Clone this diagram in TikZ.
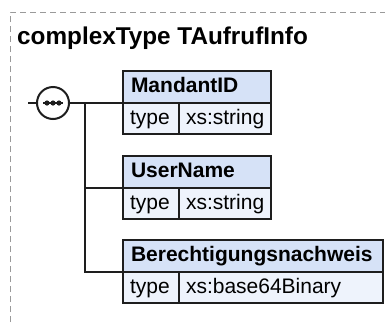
\documentclass[tikz,border=0pt]{standalone}
\usepackage{fontspec}
\setmainfont{Liberation Sans}
\usepackage{xcolor}
\usetikzlibrary{positioning}

\definecolor{headfill}{HTML}{D6E2F7}
\definecolor{bodyfill}{HTML}{EEF3FC}
\definecolor{boxline}{HTML}{1E1E1E}
\definecolor{framegray}{HTML}{9A9A9A}

\tikzset{
  elemhead/.style={draw=boxline, fill=headfill, line width=2pt, anchor=north west, outer sep=0pt,
    text width=#1, align=left, inner xsep=8pt, inner ysep=0pt, minimum height=32pt,
    text height=15.5pt, text depth=4.5pt, font=\bfseries\fontsize{21}{25}\selectfont},
  elemcell/.style={draw=boxline, fill=bodyfill, line width=2pt, anchor=north west, outer sep=0pt,
    text width=#1, align=left, inner xsep=7pt, inner ysep=0pt, minimum height=31pt,
    text height=15.5pt, text depth=4.5pt, font=\fontsize{21}{25}\selectfont},
  conn/.style={draw=boxline, line width=2pt},
  frame/.style={draw=framegray, line width=1pt, dash pattern=on 6pt off 4pt}
}

\begin{document}
\begin{tikzpicture}[x=1pt,y=-1pt]
  \useasboundingbox (0,0) rectangle (385,322);
  \draw[frame] (10,322) |- (385,12);
  \node[anchor=base west, inner sep=0pt, font=\bfseries\fontsize{24.3}{28}\selectfont]
    (title) at (17,44) {complexType TAufrufInfo};

  % sequence compositor
  \coordinate (stub) at (28,103);
  \coordinate (branch) at (85,103);
  \node[draw=boxline, fill=white, line width=2pt, circle, minimum size=32pt, inner sep=0pt, outer sep=0pt]
    (seq) at (53,103) {};
  \draw[conn] ([xshift=-10pt]seq.center) -- ([xshift=10pt]seq.center);
  \foreach \dx in {-6,0,6}
    \fill[boxline] ([xshift=\dx pt]seq.center) circle (2.6pt);

  % elements
  \node[elemhead=132pt] (mandant) at (123,71) {MandantID};
  \node[elemcell=42pt] (mandanttype) at (mandant.south west) {type};
  \node[elemcell=78pt] (mandantval) at (mandanttype.north east) {xs:string};

  \node[elemhead=132pt] (user) at (123,156) {UserName};
  \node[elemcell=42pt] (usertype) at (user.south west) {type};
  \node[elemcell=78pt] (userval) at (usertype.north east) {xs:string};

  \node[elemhead=244pt] (berecht) at (123,240) {Berechtigungsnachweis};
  \node[elemcell=42pt] (berechttype) at (berecht.south west) {type};
  \node[elemcell=190pt] (berechtval) at (berechttype.north east) {xs:base64Binary};

  % connectors
  \draw[conn] (stub) -- (seq.west);
  \draw[conn] (seq.east) -- (mandant.south west);
  \draw[conn] (branch) |- (user.south west);
  \draw[conn] (branch) |- (berecht.south west);
\end{tikzpicture}
\end{document}
